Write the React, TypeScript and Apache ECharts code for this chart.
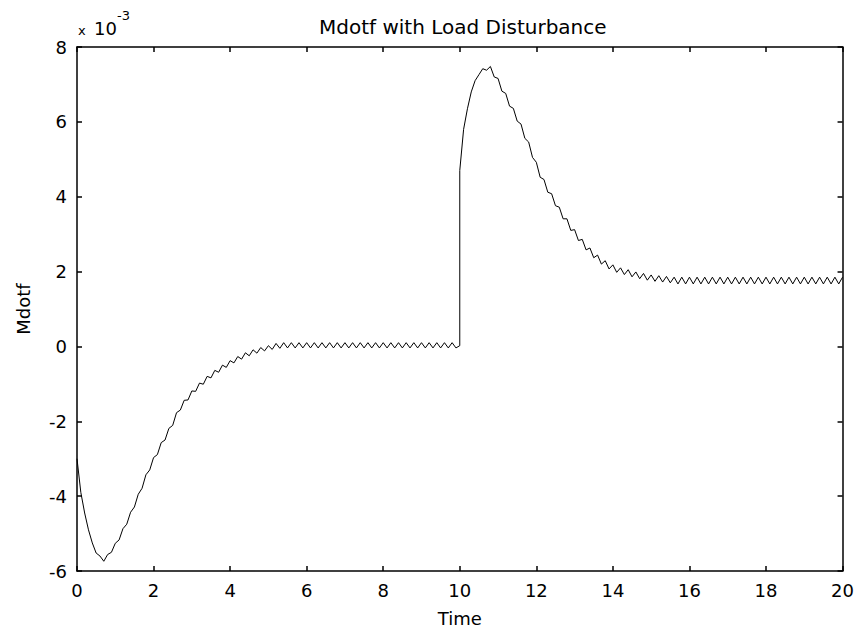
import React, { useEffect, useRef } from "react";
import * as echarts from "echarts";

// Time grid (s)
const DT = 0.1;
const SEG1_START = 0;
const SEG2_START = 10;

// Mdotf (x 10^-3), t = 0 .. 10 s, step 0.1
const seg1Values: number[] = [
  -3.0, -3.9, -4.45, -4.9, -5.25, -5.52, -5.6, -5.74, -5.56, -5.5,
  -5.26, -5.17, -4.87, -4.75, -4.43, -4.29, -3.95, -3.79, -3.43, -3.3,
  -2.97, -2.89, -2.57, -2.5, -2.19, -2.11, -1.77, -1.7, -1.44, -1.43,
  -1.19, -1.2, -0.98, -1.01, -0.8, -0.84, -0.64, -0.69, -0.5, -0.56,
  -0.38, -0.44, -0.27, -0.34, -0.17, -0.25, -0.09, -0.18, -0.03, -0.12,
  0.02, -0.08, 0.08, -0.05, 0.1, -0.04, 0.1, -0.04, 0.1, -0.04,
  0.1, -0.04, 0.1, -0.04, 0.1, -0.04, 0.1, -0.04, 0.1, -0.04,
  0.1, -0.04, 0.1, -0.04, 0.1, -0.04, 0.1, -0.04, 0.1, -0.04,
  0.1, -0.04, 0.1, -0.04, 0.1, -0.04, 0.1, -0.04, 0.1, -0.04,
  0.1, -0.04, 0.1, -0.04, 0.1, -0.04, 0.1, -0.04, 0.1, -0.04,
  0.02,
];

// Mdotf (x 10^-3), t = 10 .. 20 s, step 0.1 (after load disturbance)
const seg2Values: number[] = [
  4.7, 5.8, 6.35, 6.8, 7.1, 7.26, 7.42, 7.38, 7.48, 7.2,
  7.16, 6.82, 6.76, 6.42, 6.36, 6.02, 5.94, 5.56, 5.46, 5.05,
  4.92, 4.52, 4.46, 4.12, 4.08, 3.76, 3.72, 3.41, 3.41, 3.1,
  3.12, 2.83, 2.86, 2.58, 2.63, 2.37, 2.44, 2.2, 2.29, 2.07,
  2.18, 1.98, 2.1, 1.92, 2.05, 1.86, 1.99, 1.81, 1.95, 1.77,
  1.91, 1.74, 1.89, 1.72, 1.87, 1.7, 1.85, 1.67, 1.85, 1.67,
  1.85, 1.67, 1.85, 1.67, 1.85, 1.67, 1.85, 1.67, 1.85, 1.67,
  1.85, 1.67, 1.85, 1.67, 1.85, 1.67, 1.85, 1.67, 1.85, 1.67,
  1.85, 1.67, 1.85, 1.67, 1.85, 1.67, 1.85, 1.67, 1.85, 1.67,
  1.85, 1.67, 1.85, 1.67, 1.85, 1.67, 1.85, 1.67, 1.85, 1.67,
  1.85,
];

const X_MIN = 0, X_MAX = 20, X_STEP = 2;
const Y_MIN = -6, Y_MAX = 8, Y_STEP = 2;

const TITLE = "Mdotf with Load Disturbance";
const X_NAME = "Time";
const Y_NAME = "Mdotf";

const FONT = "DejaVu Sans";

export default function App() {
  const ref = useRef<HTMLDivElement>(null);
  useEffect(() => {
    if (!ref.current) return;
    const chart = echarts.init(ref.current, undefined, { renderer: "svg" });
    const data: [number, number][] = [];
    seg1Values.forEach((v, i) => data.push([+(SEG1_START + i * DT).toFixed(2), v]));
    seg2Values.forEach((v, i) => data.push([+(SEG2_START + i * DT).toFixed(2), v]));

    const axisCommon = {
      axisLine: { show: true, onZero: false, lineStyle: { color: "#000", width: 1.5 } },
      axisTick: { show: true, inside: true, length: 5, lineStyle: { color: "#000", width: 1.5 } },
      splitLine: { show: false },
    };
    const labelStyle = { color: "#000", fontFamily: FONT, fontSize: 18 };

    chart.setOption({
      animation: false,
      backgroundColor: "#fff",
      title: {
        text: TITLE,
        left: 314,
        top: 12,
        textStyle: { color: "#000", fontFamily: FONT, fontSize: 20, fontWeight: "normal" },
      },
      grid: { left: 77, top: 47, right: 13, bottom: 54 },
      xAxis: [
        {
          ...axisCommon,
          type: "value",
          min: X_MIN, max: X_MAX, interval: X_STEP,
          position: "bottom",
          axisLabel: { ...labelStyle, margin: 10 },
          name: X_NAME,
          nameLocation: "middle",
          nameGap: 38,
          nameTextStyle: labelStyle,
        },
        {
          ...axisCommon,
          type: "value",
          min: X_MIN, max: X_MAX, interval: X_STEP,
          position: "top",
          axisLabel: { show: false },
        },
      ],
      yAxis: [
        {
          ...axisCommon,
          type: "value",
          min: Y_MIN, max: Y_MAX, interval: Y_STEP,
          position: "left",
          axisLabel: { ...labelStyle, margin: 10 },
          name: Y_NAME,
          nameLocation: "middle",
          nameGap: 45,
          nameTextStyle: labelStyle,
        },
        {
          ...axisCommon,
          type: "value",
          min: Y_MIN, max: Y_MAX, interval: Y_STEP,
          position: "right",
          axisLabel: { show: false },
        },
      ],
      graphic: [
        {
          type: "text",
          left: 78,
          top: 24,
          style: { text: "x", fill: "#000", font: `13px ${FONT}` },
        },
        {
          type: "text",
          left: 94,
          top: 19,
          style: { text: "10", fill: "#000", font: `18px ${FONT}` },
        },
        {
          type: "text",
          left: 117,
          top: 9,
          style: { text: "-3", fill: "#000", font: `13px ${FONT}` },
        },
      ],
      series: [
        {
          type: "line",
          data,
          showSymbol: false,
          symbol: "none",
          lineStyle: { color: "#000", width: 1 },
          xAxisIndex: 0,
          yAxisIndex: 0,
        },
      ],
    });
    return () => chart.dispose();
  }, []);
  return <div ref={ref} style={{ width: 857, height: 632, position: "absolute", left: 0, top: 0 }} />;
}
